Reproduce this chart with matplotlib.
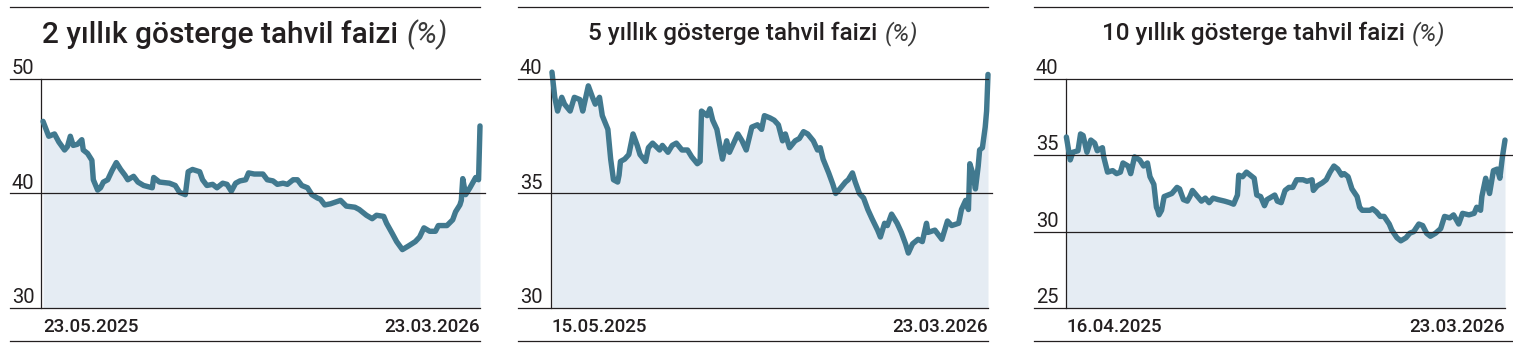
import matplotlib.pyplot as plt
from matplotlib.lines import Line2D
from matplotlib import transforms

plt.rcParams['font.family'] = ['Roboto', 'DejaVu Sans']

# 2 yillik
days_2y = [0, 4, 8, 11, 15, 17, 19, 21, 24, 27, 28, 31, 34, 35, 38, 40, 42, 45, 48, 51,
           54, 57, 59, 63, 66, 70, 76, 77, 81, 88, 92, 95, 99, 101, 104, 109, 111, 114, 118, 121,
           125, 128, 131, 134, 137, 141, 143, 147, 153, 156, 160, 163, 167, 170, 174, 177, 180, 184, 187, 191,
           193, 196, 200, 207, 211, 217, 220, 225, 229, 232, 237, 239, 243, 246, 250, 254, 259, 262, 265, 269,
           273, 275, 281, 285, 287, 290, 291, 292, 294, 297, 301, 303, 304]
vals_2y = [46.3, 45.0, 45.2, 44.5, 43.8, 44.1, 45.0, 44.2, 44.3, 44.7, 43.8, 43.5, 42.9, 41.2, 40.3, 40.5, 41.0, 41.2, 42.0, 42.7,
           42.1, 41.6, 41.2, 41.5, 41.0, 40.7, 40.5, 41.4, 41.0, 40.9, 40.7, 40.1, 39.9, 41.9, 42.1, 41.9, 41.2, 40.7, 40.8, 40.5,
           40.9, 40.8, 40.2, 40.9, 41.1, 41.2, 41.8, 41.7, 41.7, 41.2, 41.1, 40.8, 40.9, 40.8, 41.2, 41.2, 40.7, 40.5, 39.9, 39.6,
           39.5, 39.0, 39.1, 39.4, 38.9, 38.8, 38.6, 38.1, 37.8, 38.1, 38.0, 37.4, 36.5, 35.8, 35.1, 35.4, 35.8, 36.2, 37.0, 36.7,
           36.7, 37.2, 37.2, 37.7, 38.4, 39.0, 39.4, 41.3, 39.9, 40.5, 41.4, 41.2, 45.9]

# 5 yillik
days_5y = [0, 2, 4, 7, 9, 13, 16, 20, 22, 26, 29, 31, 34, 36, 38, 40, 42, 44, 47, 48,
           49, 52, 55, 58, 61, 63, 67, 69, 72, 77, 79, 83, 86, 89, 93, 97, 100, 104, 106, 107,
           111, 113, 115, 118, 121, 122, 125, 127, 130, 133, 136, 139, 143, 147, 150, 152, 156, 159, 162, 165,
           167, 170, 174, 177, 180, 183, 187, 190, 192, 194, 198, 201, 203, 206, 210, 212, 215, 217, 220, 223,
           226, 229, 233, 235, 238, 240, 243, 247, 250, 253, 255, 258, 262, 265, 268, 269, 274, 279, 283, 286,
           291, 293, 296, 298, 299, 301, 303, 305, 306, 308, 310, 311, 312]
vals_5y = [40.3, 39.2, 38.6, 39.2, 38.9, 38.6, 39.2, 39.1, 38.6, 39.7, 39.2, 38.9, 39.2, 38.4, 38.1, 37.8, 36.5, 35.6, 35.5, 35.8,
           36.4, 36.5, 36.7, 37.6, 37.1, 36.7, 36.4, 37.0, 37.2, 36.9, 37.1, 36.8, 37.1, 37.2, 36.9, 36.9, 36.6, 36.3, 36.4, 38.6,
           38.4, 38.7, 38.2, 37.8, 36.8, 36.5, 37.3, 36.8, 37.2, 37.6, 37.3, 36.9, 37.9, 38.0, 37.8, 38.4, 38.3, 38.2, 38.0, 37.3,
           37.6, 37.0, 37.3, 37.4, 37.7, 37.6, 37.3, 36.9, 37.0, 36.5, 35.9, 35.4, 35.0, 35.2, 35.5, 35.6, 35.9, 35.5, 35.0, 34.8,
           34.3, 33.9, 33.4, 33.1, 33.7, 33.6, 34.1, 33.7, 33.3, 32.8, 32.4, 32.8, 33.0, 32.9, 33.7, 33.3, 33.4, 33.0, 33.8, 33.6,
           33.7, 34.3, 34.7, 34.3, 36.3, 35.9, 35.2, 36.2, 36.9, 37.0, 37.9, 38.6, 40.2]

# 10 yillik
days_10y = [0, 3, 5, 9, 11, 13, 16, 19, 22, 24, 28, 29, 32, 36, 39, 42, 44, 48, 50, 53,
            57, 60, 63, 65, 68, 70, 71, 72, 74, 76, 79, 82, 86, 88, 91, 94, 96, 98, 102, 105,
            108, 111, 114, 118, 123, 127, 130, 133, 134, 137, 140, 143, 146, 148, 151, 154, 156, 160, 162, 164,
            167, 170, 173, 176, 179, 184, 187, 191, 192, 195, 199, 202, 205, 208, 211, 214, 216, 219, 222, 226,
            228, 230, 236, 238, 241, 244, 247, 251, 253, 257, 260, 264, 267, 270, 274, 277, 280, 283, 287, 291,
            294, 298, 301, 305, 308, 313, 317, 319, 322, 323, 326, 329, 332, 335, 337, 339, 341]
vals_10y = [36.2, 34.7, 35.2, 35.3, 36.4, 36.3, 35.2, 36.0, 35.8, 35.3, 35.5, 34.9, 33.9, 34.0, 33.8, 33.9, 34.5, 34.3, 33.8, 34.9,
            34.7, 34.3, 34.5, 33.6, 33.1, 31.6, 31.4, 31.1, 31.4, 32.3, 32.4, 32.5, 32.9, 32.8, 32.1, 32.0, 32.3, 32.7, 32.3, 32.0,
            32.2, 31.9, 32.2, 32.1, 32.0, 31.9, 31.8, 32.4, 33.7, 33.6, 33.9, 33.7, 33.5, 32.4, 32.3, 31.7, 32.1, 32.3, 32.4, 32.0,
            31.9, 32.7, 32.9, 32.9, 33.4, 33.4, 33.3, 33.4, 32.7, 33.0, 33.2, 33.4, 33.9, 34.3, 34.1, 33.7, 33.8, 33.6, 32.8, 32.3,
            31.6, 31.4, 31.4, 31.5, 31.3, 31.0, 31.0, 30.5, 30.1, 29.6, 29.4, 29.6, 29.9, 30.0, 30.5, 30.4, 29.9, 29.7, 29.9, 30.2,
            31.0, 30.9, 31.1, 30.5, 31.2, 31.1, 31.2, 31.6, 31.4, 32.3, 33.5, 32.5, 34.0, 34.1, 33.5, 34.9, 36.0]

titles = ['2 yıllık gösterge tahvil faizi', '5 yıllık gösterge tahvil faizi', '10 yıllık gösterge tahvil faizi']
date_labels = [('23.05.2025', '23.03.2026'), ('15.05.2025', '23.03.2026'), ('16.04.2025', '23.03.2026')]
yticks = [[30, 40, 50], [30, 35, 40], [25, 30, 35, 40]]

LINE = '#41798f'
FILL = '#e5ecf3'
INK = '#231f20'

W, H = 1513, 348
fig = plt.figure(figsize=(W / 100, H / 100), dpi=100)

# layout in pixels: rule left, axes left, axes right, rule right, middle grid right,
# label x, title baseline, title size, x-limits
layout = [
    dict(left=10, ax0=41, ax1=480, right=480, grid=485, lab=12, tb=43, ts=21.5, xl=(-1.4, 304)),
    dict(left=518, ax0=551, ax1=988, right=988, grid=992, lab=520, tb=40, ts=17.5, xl=(-0.7, 311.5)),
    dict(left=1034, ax0=1066, ax1=1505, right=1513, grid=1513, lab=1036, tb=40, ts=17.5, xl=(-0.3, 340)),
]
series = [(days_2y, vals_2y), (days_5y, vals_5y), (days_10y, vals_10y)]

top_px, bot_px = 79, 308
title_parts = []
for i, (L, (d, v)) in enumerate(zip(layout, series)):
    ticks = yticks[i]
    ax = fig.add_axes([L['ax0'] / W, 1 - bot_px / H, (L['ax1'] - L['ax0']) / W, (bot_px - top_px) / H])
    ax.fill_between(d, v, ticks[0], color=FILL, lw=0)
    ax.plot(d, v, color=LINE, lw=3.9, solid_capstyle='round', solid_joinstyle='round', clip_on=False, zorder=3)
    ax.set_xlim(*L['xl'])
    ax.set_ylim(ticks[0], ticks[-1])
    for s in ['top', 'right', 'bottom']:
        ax.spines[s].set_visible(False)
    ax.spines['left'].set_color(INK)
    ax.spines['left'].set_linewidth(0.9)
    ax.set_yticks([])
    ax.set_xticks([d[0], d[-1]], labels=list(date_labels[i]))
    ax.tick_params(axis='x', length=0, pad=7, labelsize=13.5, labelcolor=INK)
    xl = ax.get_xticklabels()
    xl[0].set_ha('left')
    xl[-1].set_ha('right')
    for t in xl:
        t.set_fontweight('medium')

    tr = transforms.blended_transform_factory(fig.transFigure, ax.transData)
    for k, yv in enumerate(ticks):
        if k == 0:
            x1 = L['ax1']
        elif k == len(ticks) - 1:
            x1 = L['right']
        else:
            x1 = L['grid']
        fig.add_artist(Line2D([L['left'] / W, x1 / W], [yv, yv], transform=tr, color=INK, lw=0.9))
        ax.annotate(str(yv), xy=(L['lab'] / W, yv), xycoords=('figure fraction', 'data'),
                    xytext=(0, 3.5), textcoords='offset points', ha='left', va='baseline',
                    fontsize=14.5, color=INK, annotation_clip=False)

    # top and bottom rules
    for ypx in (7, 341):
        fig.add_artist(Line2D([L['left'] / W, L['right'] / W], [1 - ypx / H] * 2,
                              transform=fig.transFigure, color=INK, lw=0.9))

    t1 = fig.text(0, 1 - L['tb'] / H, titles[i], ha='left', va='baseline',
                  fontsize=L['ts'], fontweight='medium', color=INK)
    t2 = fig.text(0, 1 - L['tb'] / H, '(%)', ha='left', va='baseline',
                  fontsize=L['ts'], fontstyle='italic', color='#3a3a3a')
    title_parts.append((t1, t2, (L['left'] + L['right']) / 2, L['ts']))

fig.canvas.draw()
r = fig.canvas.get_renderer()
for t1, t2, cx, ts in title_parts:
    w1 = t1.get_window_extent(r).width
    w2 = t2.get_window_extent(r).width
    gap = 0.3 * ts * 100 / 72
    x0 = cx - (w1 + gap + w2) / 2
    t1.set_x(x0 / W)
    t2.set_x((x0 + w1 + gap) / W)

fig.savefig('out.png', dpi=100)
